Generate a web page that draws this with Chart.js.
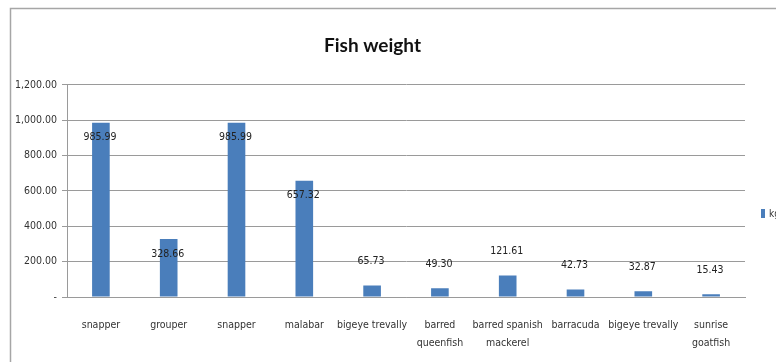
<!DOCTYPE html>
<html>
<head>
<meta charset="utf-8">
<script src="https://cdn.jsdelivr.net/npm/chart.js@4/dist/chart.umd.min.js"></script>
<style>
  html, body { margin: 0; padding: 0; background: #fff; }
  #wrap { position: relative; width: 776px; height: 362px; }
</style>
</head>
<body>
<div id="wrap"><canvas id="c" width="776" height="362"></canvas></div>
<script>
// Fish catch weights (kg)
const fishNames = [
  'snapper', 'grouper', 'snapper', 'malabar', 'bigeye trevally',
  ['barred', 'queenfish'], ['barred spanish', 'mackerel'], 'barracuda',
  'bigeye trevally', ['sunrise', 'goatfish']
];
const weightKg = [985.99, 328.66, 985.99, 657.32, 65.73, 49.30, 121.61, 42.73, 32.87, 15.43];
const yTicks = [0, 200, 400, 600, 800, 1000, 1200];
const seriesName = 'kg';

const FONT = '"Liberation Sans Narrow", "DejaVu Sans Condensed", "Open Sans", sans-serif';
const BAR = '#4a7ebb';

function fmt(v) {
  if (v === 0) return '-';
  return v.toLocaleString('en-US', { minimumFractionDigits: 2, maximumFractionDigits: 2 });
}

// Outer frame, value labels and the legend entry at the right edge
const decor = {
  id: 'decor',
  beforeDraw(chart) {
    const ctx = chart.ctx;
    ctx.save();
    ctx.strokeStyle = '#a6a6a6';
    ctx.lineWidth = 1.5;
    ctx.strokeRect(10.5, 8.5, 820, 400);
    ctx.restore();
  },
  afterDatasetsDraw(chart) {
    const ctx = chart.ctx;
    const meta = chart.getDatasetMeta(0);
    ctx.save();
    ctx.font = '10.5px ' + FONT;
    ctx.fillStyle = '#222';
    ctx.textAlign = 'center';
    ctx.textBaseline = 'middle';
    meta.data.forEach((bar, i) => {
      const v = weightKg[i];
      const y = v > 300 ? bar.y + 15 : bar.y - 24;
      ctx.fillText(fmt(v), bar.x - 1, y);
    });
    // legend
    ctx.fillStyle = BAR;
    ctx.fillRect(761, 209, 4, 9);
    ctx.fillStyle = '#333';
    ctx.textAlign = 'left';
    ctx.font = '10px ' + FONT;
    ctx.fillText(seriesName, 769, 214);
    ctx.restore();
  }
};

new Chart(document.getElementById('c'), {
  type: 'bar',
  data: {
    labels: fishNames,
    datasets: [{
      label: seriesName,
      data: weightKg,
      backgroundColor: BAR,
      borderWidth: 0,
      barPercentage: 0.26,
      categoryPercentage: 1.0
    }]
  },
  options: {
    responsive: false,
    animation: false,
    layout: { padding: { left: 0, right: 31, top: 0, bottom: 0 } },
    plugins: {
      legend: { display: false },
      tooltip: { enabled: false },
      title: {
        display: true,
        text: 'Fish weight',
        color: '#111',
        font: { family: 'Lato, "Open Sans", sans-serif', size: 19, weight: 'bold' },
        padding: { top: 34, bottom: 28 }
      }
    },
    scales: {
      x: {
        grid: { display: false, drawTicks: false },
        border: { display: true, color: '#9a9a9a', width: 1 },
        ticks: {
          color: '#333',
          font: { family: FONT, size: 10.5, lineHeight: 1.65 },
          padding: 20,
          maxRotation: 0,
          autoSkip: false
        },
        afterFit(scale) { scale.height = 65; }
      },
      y: {
        min: 0,
        max: 1200,
        afterBuildTicks(scale) { scale.ticks = yTicks.map(v => ({ value: v })); },
        grid: { color: '#9a9a9a', lineWidth: 1, drawTicks: true, tickLength: 5 },
        border: { display: true, color: '#9a9a9a', width: 1 },
        ticks: {
          color: '#333',
          font: { family: FONT, size: 10.5 },
          padding: 5,
          callback: v => fmt(v)
        },
        afterFit(scale) { scale.width = 67; }
      }
    }
  },
  plugins: [decor]
});
</script>
</body>
</html>
